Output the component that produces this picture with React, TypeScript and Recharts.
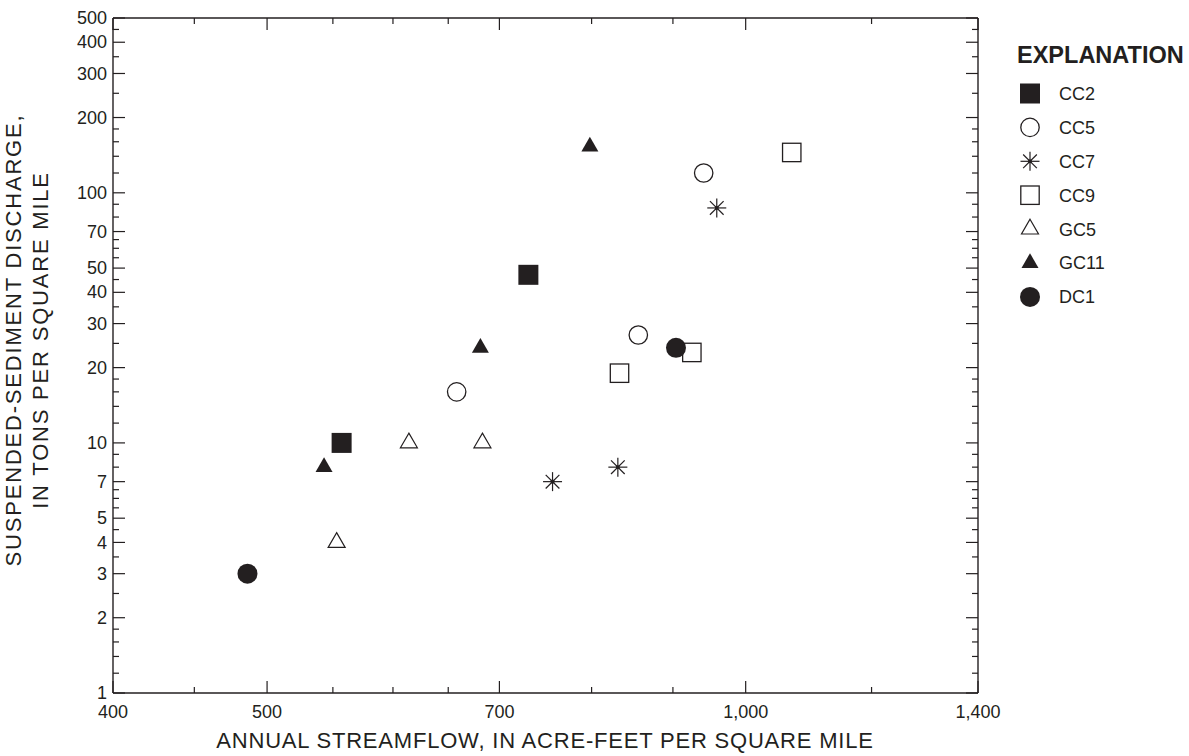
import React from "react";
import { ScatterChart, Scatter, XAxis, YAxis } from "recharts";

const INK = "#231f20";
const FONT = '"Liberation Sans", Arial, Helvetica, sans-serif';

// annual streamflow (acre-ft/mi²) vs suspended-sediment discharge (tons/mi²)
const CC2 = [
  { flow: 557, sediment: 10 },
  { flow: 730, sediment: 47 },
];
const CC5 = [
  { flow: 658, sediment: 16 },
  { flow: 856, sediment: 27 },
  { flow: 941, sediment: 120 },
];
const CC7 = [
  { flow: 756, sediment: 7 },
  { flow: 831, sediment: 8 },
  { flow: 959, sediment: 87 },
];
const CC9 = [
  { flow: 833, sediment: 19 },
  { flow: 925, sediment: 23 },
  { flow: 1069, sediment: 145 },
];
const GC5 = [
  { flow: 553, sediment: 4 },
  { flow: 614, sediment: 10 },
  { flow: 683, sediment: 10 },
];
const GC11 = [
  { flow: 543, sediment: 8 },
  { flow: 681, sediment: 24 },
  { flow: 798, sediment: 153 },
];
const DC1 = [
  { flow: 486, sediment: 3 },
  { flow: 904, sediment: 24 },
];

const X_MAJOR = [400, 500, 700, 1000, 1400];
const X_MINOR = [450, 550, 600, 650, 800, 900, 1200];
const Y_MAJOR = [1, 2, 3, 4, 5, 7, 10, 20, 30, 40, 50, 70, 100, 200, 300, 400, 500];
const Y_MINOR = [
  1.2, 1.4, 1.6, 1.8, 2.5, 3.5, 4.5, 5.5, 6, 6.5, 8, 9, 12, 14, 16, 18, 25, 35, 45, 55, 60, 65,
  80, 90, 120, 140, 160, 180, 250, 350, 450,
];
const X_TICKS = [...X_MAJOR, ...X_MINOR].sort((a, b) => a - b);
const Y_TICKS = [...Y_MAJOR, ...Y_MINOR].sort((a, b) => a - b);

const X_TITLE = "ANNUAL STREAMFLOW, IN ACRE-FEET PER SQUARE MILE";
const Y_TITLE = ["SUSPENDED-SEDIMENT DISCHARGE,", "IN TONS PER SQUARE MILE"];
const LEGEND_TITLE = "EXPLANATION";

// ---- marker shapes ----
type MarkProps = { cx?: number; cy?: number };

function FilledSquare({ cx = 0, cy = 0 }: MarkProps) {
  return <rect x={cx - 10} y={cy - 10} width={20} height={20} fill={INK} />;
}
function OpenSquare({ cx = 0, cy = 0 }: MarkProps) {
  return <rect x={cx - 9.2} y={cy - 9.2} width={18.4} height={18.4} fill="#fff" stroke={INK} strokeWidth={1.3} />;
}
function OpenCircle({ cx = 0, cy = 0 }: MarkProps) {
  return <circle cx={cx} cy={cy} r={9.2} fill="#fff" stroke={INK} strokeWidth={1.3} />;
}
function FilledCircle({ cx = 0, cy = 0 }: MarkProps) {
  return <circle cx={cx} cy={cy} r={10} fill={INK} />;
}
function triPath(cx: number, cy: number) {
  const half = 8.5;
  const h = 14.7;
  return `M${cx},${cy - (2 * h) / 3} L${cx + half},${cy + h / 3} L${cx - half},${cy + h / 3} Z`;
}
function OpenTriangle({ cx = 0, cy = 0 }: MarkProps) {
  return <path d={triPath(cx, cy)} fill="#fff" stroke={INK} strokeWidth={1.2} />;
}
function FilledTriangle({ cx = 0, cy = 0 }: MarkProps) {
  return <path d={triPath(cx, cy)} fill={INK} />;
}
function Asterisk({ cx = 0, cy = 0 }: MarkProps) {
  const r = 9.5;
  const d = r * 0.72;
  return (
    <g stroke={INK} strokeWidth={1.2}>
      <line x1={cx} y1={cy - r} x2={cx} y2={cy + r} />
      <line x1={cx - r} y1={cy} x2={cx + r} y2={cy} />
      <line x1={cx - d} y1={cy - d} x2={cx + d} y2={cy + d} />
      <line x1={cx - d} y1={cy + d} x2={cx + d} y2={cy - d} />
      <rect x={cx - 1.8} y={cy - 1.8} width={3.6} height={3.6} fill={INK} stroke="none" />
    </g>
  );
}

const SERIES = [
  { name: "CC2", data: CC2, Mark: FilledSquare },
  { name: "CC5", data: CC5, Mark: OpenCircle },
  { name: "CC7", data: CC7, Mark: Asterisk },
  { name: "CC9", data: CC9, Mark: OpenSquare },
  { name: "GC5", data: GC5, Mark: OpenTriangle },
  { name: "GC11", data: GC11, Mark: FilledTriangle },
  { name: "DC1", data: DC1, Mark: FilledCircle },
];

// ---- ticks drawn inward (USGS style); tickSize/tickMargin 0 puts x,y on the axis line ----
const fmt = (v: number) => v.toLocaleString("en-US");
const labelStyle = { fontFamily: FONT, fontSize: 18, fill: INK };

function BottomTick({ x, y, payload }: any) {
  const major = X_MAJOR.includes(payload.value);
  return (
    <g>
      <line x1={x} x2={x} y1={y} y2={y - (major ? 12 : 6)} stroke={INK} strokeWidth={1.2} />
      {major && (
        <text x={x} y={y + 25} textAnchor="middle" {...labelStyle}>
          {fmt(payload.value)}
        </text>
      )}
    </g>
  );
}
function TopTick({ x, y, payload }: any) {
  const major = X_MAJOR.includes(payload.value);
  return <line x1={x} x2={x} y1={y} y2={y + (major ? 12 : 6)} stroke={INK} strokeWidth={1.2} />;
}
function LeftTick({ x, y, payload }: any) {
  const major = Y_MAJOR.includes(payload.value);
  return (
    <g>
      <line x1={x} x2={x + (major ? 12 : 6)} y1={y} y2={y} stroke={INK} strokeWidth={1.2} />
      {major && (
        <text x={x - 6} y={y} dy="0.34em" textAnchor="end" {...labelStyle}>
          {fmt(payload.value)}
        </text>
      )}
    </g>
  );
}
function RightTick({ x, y, payload }: any) {
  const major = Y_MAJOR.includes(payload.value);
  return <line x1={x} x2={x - (major ? 12 : 6)} y1={y} y2={y} stroke={INK} strokeWidth={1.2} />;
}

const axisLine = { stroke: INK, strokeWidth: 1.4 };
const common = {
  type: "number" as const,
  scale: "log" as const,
  allowDataOverflow: true,
  interval: 0,
  tickSize: 0,
  tickMargin: 0,
  tickLine: false,
  axisLine,
};

export default function App() {
  return (
    <div style={{ position: "absolute", left: 0, top: 0, width: 1189, height: 756, background: "#fff" }}>
      <ScatterChart width={1189} height={756} margin={{ top: 0, right: 0, bottom: 0, left: 0 }}>
        <XAxis
          {...common}
          xAxisId="bottom"
          orientation="bottom"
          dataKey="flow"
          domain={[400, 1400]}
          ticks={X_TICKS}
          height={63}
          tick={<BottomTick />}
        />
        <XAxis
          {...common}
          xAxisId="top"
          orientation="top"
          dataKey="flow"
          domain={[400, 1400]}
          ticks={X_TICKS}
          height={18}
          tick={<TopTick />}
        />
        <YAxis
          {...common}
          yAxisId="left"
          orientation="left"
          dataKey="sediment"
          domain={[1, 500]}
          ticks={Y_TICKS}
          width={113}
          tick={<LeftTick />}
        />
        <YAxis
          {...common}
          yAxisId="right"
          orientation="right"
          dataKey="sediment"
          domain={[1, 500]}
          ticks={Y_TICKS}
          width={211}
          tick={<RightTick />}
        />
        {SERIES.map((s) => (
          <Scatter
            key={s.name}
            name={s.name}
            data={s.data}
            xAxisId="bottom"
            yAxisId="left"
            isAnimationActive={false}
            shape={(p: any) => <s.Mark cx={p.cx} cy={p.cy} />}
          />
        ))}
      </ScatterChart>

      {/* axis titles and explanation */}
      <svg
        width={1189}
        height={756}
        style={{ position: "absolute", left: 0, top: 0, pointerEvents: "none" }}
      >
        <text x={545} y={748} textAnchor="middle" fontFamily={FONT} fontSize={22} letterSpacing={0.8} fill={INK}>
          {X_TITLE}
        </text>
        <text
          transform="translate(21,340) rotate(-90)"
          textAnchor="middle"
          fontFamily={FONT}
          fontSize={22}
          letterSpacing={1.8}
          fill={INK}
        >
          {Y_TITLE[0]}
        </text>
        <text
          transform="translate(48,340) rotate(-90)"
          textAnchor="middle"
          fontFamily={FONT}
          fontSize={22}
          letterSpacing={1.8}
          fill={INK}
        >
          {Y_TITLE[1]}
        </text>

        <text x={1017} y={63} fontFamily={FONT} fontSize={23.5} fontWeight="bold" fill={INK}>
          {LEGEND_TITLE}
        </text>
        {SERIES.map((s, i) => {
          const cy = 93.5 + i * 33.9;
          return (
            <g key={s.name}>
              <s.Mark cx={1030} cy={cy} />
              <text x={1059} y={cy} dy="0.36em" fontFamily={FONT} fontSize={18} fill={INK}>
                {s.name}
              </text>
            </g>
          );
        })}
      </svg>
    </div>
  );
}
